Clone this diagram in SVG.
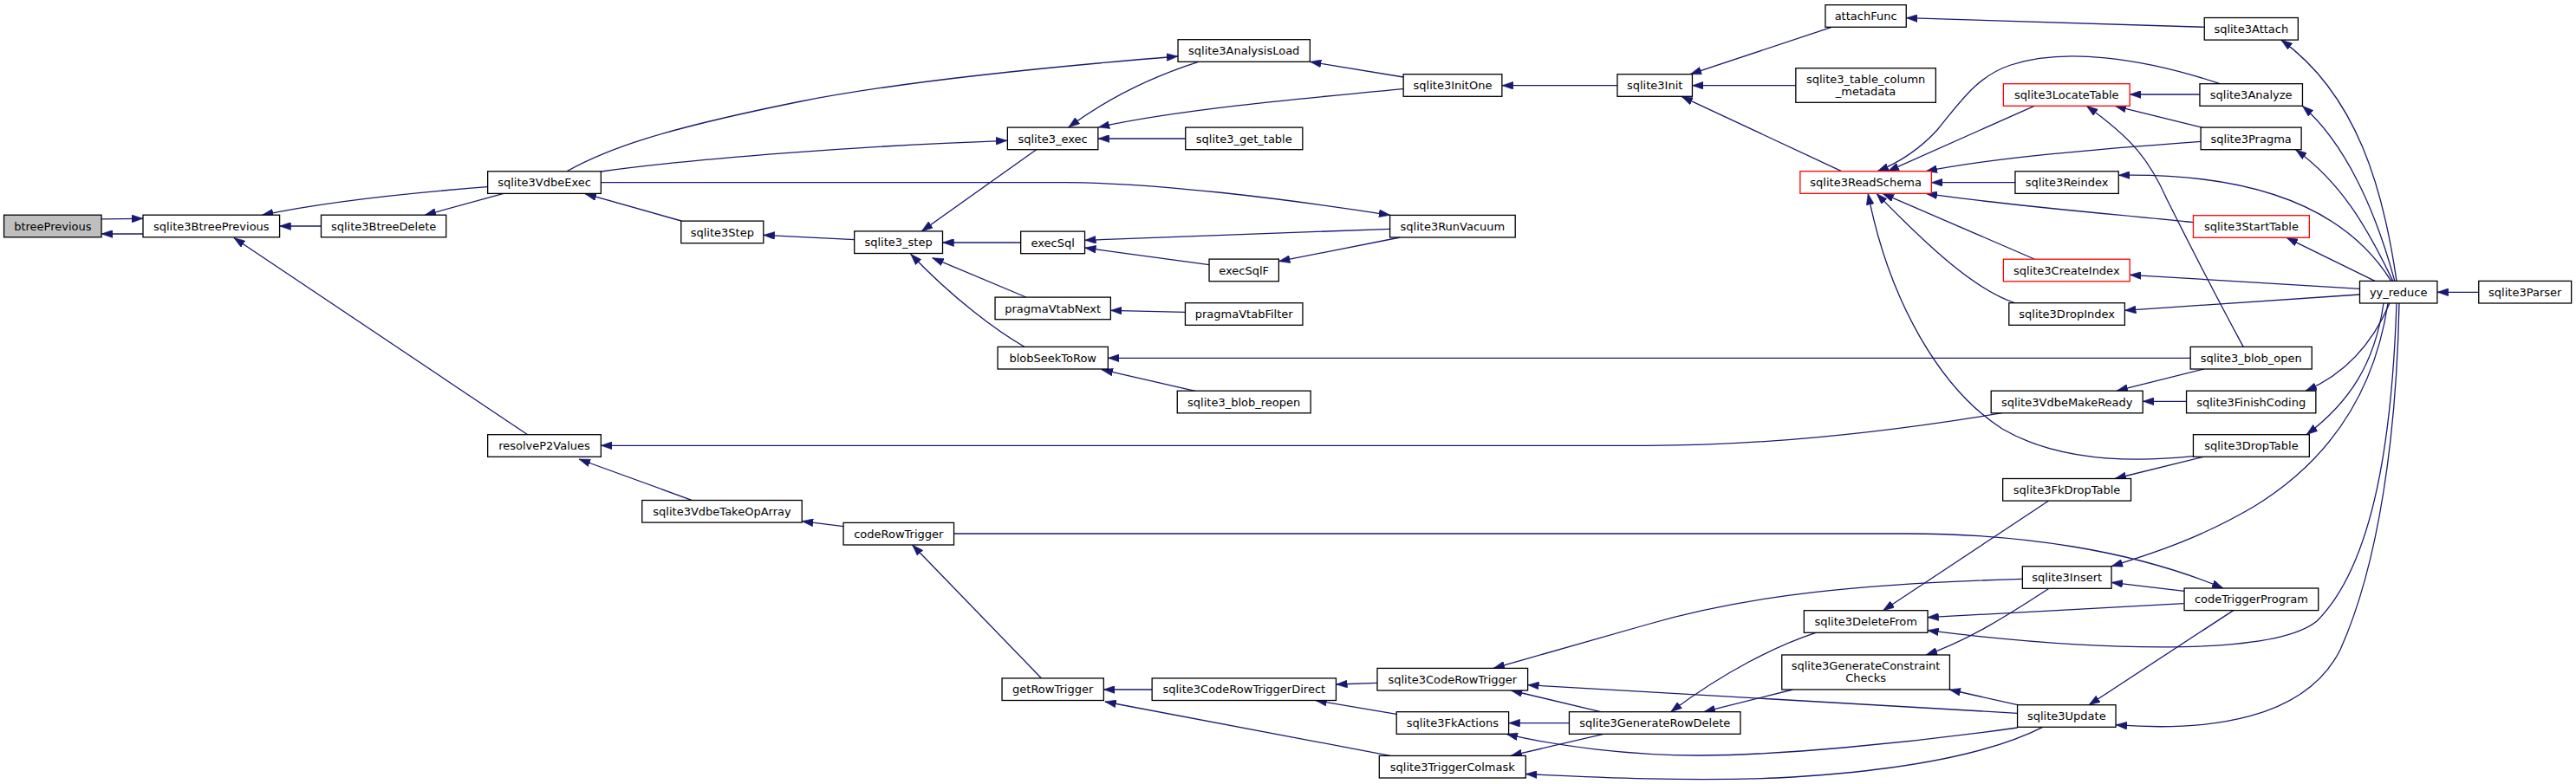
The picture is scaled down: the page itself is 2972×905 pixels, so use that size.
<svg xmlns="http://www.w3.org/2000/svg" width="2972" height="905" viewBox="0 0 2972 905">
<style>
.node rect{fill:#ffffff;stroke:#000000;stroke-width:1.3}
.node.trunc rect{stroke:#ff0000}
.node.root rect{fill:#bfbfbf}
.node text{font-family:"DejaVu Sans","Liberation Sans",sans-serif;font-size:13px;text-anchor:middle;fill:#000000}
.edges path{fill:none;stroke:#191970;stroke-width:1.3;marker-end:url(#arr)}
</style>
<defs>
<marker id="arr" viewBox="0 0 13 9" refX="13" refY="4.5" markerWidth="13" markerHeight="9" markerUnits="userSpaceOnUse" orient="auto">
<path d="M0,0 L13,4.5 L0,9 z" fill="#191970" stroke="#191970" stroke-width="0.5"/>
</marker>
</defs>
<rect width="2972" height="905" fill="#ffffff"/>
<g class="edges">
<path d="M117,252.8 L165,252.3"/>
<path d="M165,270 L117,270"/>
<path d="M370.5,261 L322.6,261"/>
<path d="M562.6,215.7 C480,222 380,232 302.3,248.3"/>
<path d="M581,223.3 L490,248.3"/>
<path d="M608.7,501.7 L269.8,274.5"/>
<path d="M786,255 L675,223.7"/>
<path d="M653.9,197.7 C700,172 760,150 924,117 C1030,96 1200,78 1359,65"/>
<path d="M693.3,198 C800,183 1000,168 1162,162.3"/>
<path d="M693.3,210.7 L1230,210.7 C1330,210.7 1480,229 1603.9,248.3"/>
<path d="M1195.6,172.7 L1063.3,266.9"/>
<path d="M985.7,276.7 L880.8,271.3"/>
<path d="M1177.6,280 L1087.5,280"/>
<path d="M1183.7,343 L1075.6,297.7"/>
<path d="M1181.8,400.3 C1150,382 1100,345 1050.7,293.3"/>
<path d="M1382.7,71.3 C1340,85 1285,108 1232.7,147"/>
<path d="M1619.2,102.7 C1520,112 1360,126 1267.2,147"/>
<path d="M1367.8,160 L1266.8,160"/>
<path d="M1619.2,89 L1511.3,71.3"/>
<path d="M1865.9,98.7 L1732.9,98.7"/>
<path d="M1603.6,264.3 L1251.5,277.3"/>
<path d="M1615.4,274 L1475.3,301.7"/>
<path d="M1395,305.7 L1251.5,286"/>
<path d="M1367.4,360.3 L1281.3,358.3"/>
<path d="M2527.1,413.3 L1278.3,413.3"/>
<path d="M1380,451.7 L1271,426.7"/>
<path d="M2310,476.7 C2200,495 2050,514.3 1900,514.3 L693.3,514.3"/>
<path d="M798,577.3 L668,530"/>
<path d="M973,607.7 L925.2,601.7"/>
<path d="M1100.5,616 L2200,616 C2330,616 2460,635 2565,679"/>
<path d="M1201.3,782.7 L1052.6,629"/>
<path d="M1329.2,796 L1273.3,796"/>
<path d="M1603.9,872.3 L1274.8,810"/>
<path d="M1589,788.3 L1541.5,790"/>
<path d="M1611.2,824.3 L1517.8,808.5"/>
<path d="M2333,668.3 C2150,674 2020,686 1900,721 L1723,771.4"/>
<path d="M1846.7,821.7 L1743.3,797"/>
<path d="M2327.5,823.3 L1762.6,790.7"/>
<path d="M1810.4,834.7 L1740.6,834.7"/>
<path d="M2327.5,840 C2200,858 2050,872 1960,872 C1880,872 1800,862 1738,847.3"/>
<path d="M1850,847.3 L1743,872.4"/>
<path d="M2356.7,839.3 C2300,868 2200,890 2050,898 C1950,902 1850,898 1760.3,893.5"/>
<path d="M2095,730.3 C2050,745 1990,775 1927.6,821.7"/>
<path d="M2068.4,796 L1965.8,821.7"/>
<path d="M2363.7,578 L2172.5,704.7"/>
<path d="M2519.3,696.7 L2223.7,712.7"/>
<path d="M2765,350 C2760,500 2740,650 2673,717 C2620,760 2400,750 2223.7,727.7"/>
<path d="M2755,350 C2740,450 2690,530 2600,585 C2540,620 2490,637 2436,653.7"/>
<path d="M2768,350 C2765,500 2745,650 2700,750 C2660,830 2550,845 2441,836.7"/>
<path d="M2750,350 C2740,420 2710,465 2661,501.7"/>
<path d="M2757,350 C2740,390 2710,430 2660,451.2"/>
<path d="M2765,324.4 C2750,220 2720,110 2631.8,46.1"/>
<path d="M2762.8,324.4 C2740,240 2705,165 2656.4,122.3"/>
<path d="M2760.7,324.4 C2730,260 2700,210 2648.5,172.7"/>
<path d="M2758.7,324.4 C2700,230 2580,200 2444.3,202.3"/>
<path d="M2740,324.4 L2638,274.3"/>
<path d="M2722.5,333.3 L2457.2,317.3"/>
<path d="M2722.5,340 L2451.4,358.3"/>
<path d="M2859.7,337.3 L2811.9,337.3"/>
<path d="M2522.5,463.3 L2472.2,463.3"/>
<path d="M2542.5,426 L2442,451.2"/>
<path d="M2542.5,527.3 L2440,552.5"/>
<path d="M2530.4,526.7 C2450,535 2370,530 2310,495 C2240,450 2180,350 2155.2,223.4"/>
<path d="M2325.5,350 C2280,335 2230,290 2165,223.4"/>
<path d="M2347,299 L2172,223.4"/>
<path d="M2530.4,256.7 C2450,248 2320,238 2222,223.4"/>
<path d="M2324.9,210.7 L2228.3,210.7"/>
<path d="M2539.1,163.3 C2420,172 2300,182 2222,197.7"/>
<path d="M2347,122.3 L2178,197.7"/>
<path d="M2561.2,96.7 C2470,66 2380,55 2320,75 C2280,88 2260,120 2235,150 C2215,172 2190,188 2166,197.7"/>
<path d="M2537.9,109 L2457.2,109"/>
<path d="M2540.4,147.1 L2440,122.3"/>
<path d="M2588.2,400.4 C2550,330 2520,270 2500,230 C2480,185 2460,160 2407.3,122.3"/>
<path d="M2543.3,31.3 L2199.2,20.7"/>
<path d="M2113.2,31.3 L1950,85.7"/>
<path d="M2071.8,98.7 L1952.4,98.7"/>
<path d="M2124.6,197.7 L1940,111.3"/>
<path d="M2364,679.3 C2320,708 2270,740 2222,756"/>
<path d="M2327.7,813.7 L2249,796"/>
<path d="M2520,682.3 L2436,672.3"/>
<path d="M2576.7,704.6 L2410,813.7"/>
</g>
<g id="node_btreePrevious" class="node root"><rect x="4.55" y="248.2" width="112.5" height="25.6"/><text x="60.8" y="265.6">btreePrevious</text></g>
<g id="node_sqlite3BtreePrevious" class="node"><rect x="165" y="248.2" width="157.6" height="25.6"/><text x="243.8" y="265.6">sqlite3BtreePrevious</text></g>
<g id="node_sqlite3BtreeDelete" class="node"><rect x="370.5" y="248.2" width="144.2" height="25.6"/><text x="442.6" y="265.6">sqlite3BtreeDelete</text></g>
<g id="node_sqlite3VdbeExec" class="node"><rect x="562.65" y="197.8" width="130.7" height="25.6"/><text x="628" y="215.2">sqlite3VdbeExec</text></g>
<g id="node_resolveP2Values" class="node"><rect x="562.65" y="501.7" width="130.7" height="25.6"/><text x="628" y="519.1">resolveP2Values</text></g>
<g id="node_sqlite3Step" class="node"><rect x="785.8" y="255.1" width="95" height="25.6"/><text x="833.3" y="272.5">sqlite3Step</text></g>
<g id="node_sqlite3VdbeTakeOpArray" class="node"><rect x="740.75" y="577.5" width="184.5" height="25.6"/><text x="833" y="594.9">sqlite3VdbeTakeOpArray</text></g>
<g id="node_sqlite3_step" class="node"><rect x="985.7" y="266.9" width="101.8" height="25.6"/><text x="1036.6" y="284.3">sqlite3_step</text></g>
<g id="node_codeRowTrigger" class="node"><rect x="973.05" y="603.4" width="127.5" height="25.6"/><text x="1036.8" y="620.8">codeRowTrigger</text></g>
<g id="node_sqlite3_exec" class="node"><rect x="1162.35" y="147.1" width="104.5" height="25.6"/><text x="1214.6" y="164.5">sqlite3_exec</text></g>
<g id="node_execSql" class="node"><rect x="1177.65" y="267.1" width="73.9" height="25.6"/><text x="1214.6" y="284.5">execSql</text></g>
<g id="node_pragmaVtabNext" class="node"><rect x="1148.05" y="343.1" width="133.3" height="25.6"/><text x="1214.7" y="360.5">pragmaVtabNext</text></g>
<g id="node_blobSeekToRow" class="node"><rect x="1151.05" y="400.4" width="127.3" height="25.6"/><text x="1214.7" y="417.8">blobSeekToRow</text></g>
<g id="node_getRowTrigger" class="node"><rect x="1156.05" y="782.9" width="117.3" height="25.6"/><text x="1214.7" y="800.3">getRowTrigger</text></g>
<g id="node_sqlite3AnalysisLoad" class="node"><rect x="1359.05" y="45.7" width="152.3" height="25.6"/><text x="1435.2" y="63.1">sqlite3AnalysisLoad</text></g>
<g id="node_sqlite3_get_table" class="node"><rect x="1367.75" y="147.1" width="135.1" height="25.6"/><text x="1435.3" y="164.5">sqlite3_get_table</text></g>
<g id="node_execSqlF" class="node"><rect x="1395.05" y="299.1" width="80.3" height="25.6"/><text x="1435.2" y="316.5">execSqlF</text></g>
<g id="node_pragmaVtabFilter" class="node"><rect x="1367.45" y="349.7" width="135.5" height="25.6"/><text x="1435.2" y="367.1">pragmaVtabFilter</text></g>
<g id="node_sqlite3_blob_reopen" class="node"><rect x="1358.25" y="451.2" width="153.9" height="25.6"/><text x="1435.2" y="468.6">sqlite3_blob_reopen</text></g>
<g id="node_sqlite3CodeRowTriggerDirect" class="node"><rect x="1329.15" y="782.9" width="212.3" height="25.6"/><text x="1435.3" y="800.3">sqlite3CodeRowTriggerDirect</text></g>
<g id="node_sqlite3InitOne" class="node"><rect x="1619.15" y="85.7" width="113.7" height="25.6"/><text x="1676" y="103.1">sqlite3InitOne</text></g>
<g id="node_sqlite3RunVacuum" class="node"><rect x="1603.6" y="248.4" width="144.6" height="25.6"/><text x="1675.9" y="265.8">sqlite3RunVacuum</text></g>
<g id="node_sqlite3CodeRowTrigger" class="node"><rect x="1589" y="771.4" width="173.6" height="25.6"/><text x="1675.8" y="788.8">sqlite3CodeRowTrigger</text></g>
<g id="node_sqlite3FkActions" class="node"><rect x="1611.2" y="821.7" width="129.4" height="25.6"/><text x="1675.9" y="839.1">sqlite3FkActions</text></g>
<g id="node_sqlite3TriggerColmask" class="node"><rect x="1591.3" y="872.4" width="169" height="25.6"/><text x="1675.8" y="889.8">sqlite3TriggerColmask</text></g>
<g id="node_sqlite3Init" class="node"><rect x="1865.95" y="85.7" width="86.5" height="25.6"/><text x="1909.2" y="103.1">sqlite3Init</text></g>
<g id="node_sqlite3GenerateRowDelete" class="node"><rect x="1810.45" y="821.7" width="197.5" height="25.6"/><text x="1909.2" y="839.1">sqlite3GenerateRowDelete</text></g>
<g id="node_attachFunc" class="node"><rect x="2105.95" y="5.7" width="93.3" height="25.6"/><text x="2152.6" y="23.1">attachFunc</text></g>
<g id="node_sqlite3_table_column_metadata" class="node"><rect x="2071.85" y="78.7" width="161.5" height="39.6"/><text x="2152.6" y="95.9">sqlite3_table_column</text><text x="2152.6" y="109.5">_metadata</text></g>
<g id="node_sqlite3ReadSchema" class="node trunc"><rect x="2076.85" y="197.7" width="151.5" height="25.6"/><text x="2152.6" y="215.1">sqlite3ReadSchema</text></g>
<g id="node_sqlite3DeleteFrom" class="node"><rect x="2081.35" y="704.7" width="142.7" height="25.6"/><text x="2152.7" y="722.1">sqlite3DeleteFrom</text></g>
<g id="node_sqlite3GenerateConstraintChecks" class="node"><rect x="2055.75" y="756" width="193.7" height="40"/><text x="2152.6" y="773">sqlite3GenerateConstraint</text><text x="2152.6" y="787">Checks</text></g>
<g id="node_sqlite3LocateTable" class="node trunc"><rect x="2311.4" y="96.7" width="145.8" height="25.6"/><text x="2384.3" y="114.1">sqlite3LocateTable</text></g>
<g id="node_sqlite3Reindex" class="node"><rect x="2324.95" y="197.8" width="119.3" height="25.6"/><text x="2384.6" y="215.2">sqlite3Reindex</text></g>
<g id="node_sqlite3CreateIndex" class="node trunc"><rect x="2311.4" y="299.2" width="145.8" height="25.6"/><text x="2384.3" y="316.6">sqlite3CreateIndex</text></g>
<g id="node_sqlite3DropIndex" class="node"><rect x="2317.8" y="349.7" width="133.6" height="25.6"/><text x="2384.6" y="367.1">sqlite3DropIndex</text></g>
<g id="node_sqlite3VdbeMakeReady" class="node"><rect x="2297.2" y="451.2" width="175" height="25.6"/><text x="2384.7" y="468.6">sqlite3VdbeMakeReady</text></g>
<g id="node_sqlite3FkDropTable" class="node"><rect x="2310.65" y="552.5" width="147.9" height="25.6"/><text x="2384.6" y="569.9">sqlite3FkDropTable</text></g>
<g id="node_sqlite3Insert" class="node"><rect x="2333.35" y="653.7" width="102.7" height="25.6"/><text x="2384.7" y="671.1">sqlite3Insert</text></g>
<g id="node_sqlite3Update" class="node"><rect x="2327.55" y="813.7" width="113.5" height="25.6"/><text x="2384.3" y="831.1">sqlite3Update</text></g>
<g id="node_sqlite3Attach" class="node"><rect x="2543.25" y="20.5" width="108.1" height="25.6"/><text x="2597.3" y="37.9">sqlite3Attach</text></g>
<g id="node_sqlite3Analyze" class="node"><rect x="2537.95" y="96.7" width="118.5" height="25.6"/><text x="2597.2" y="114.1">sqlite3Analyze</text></g>
<g id="node_sqlite3Pragma" class="node"><rect x="2539.1" y="147.1" width="116" height="25.6"/><text x="2597.1" y="164.5">sqlite3Pragma</text></g>
<g id="node_sqlite3StartTable" class="node trunc"><rect x="2530.45" y="248.7" width="133.9" height="25.6"/><text x="2597.4" y="266.1">sqlite3StartTable</text></g>
<g id="node_sqlite3_blob_open" class="node"><rect x="2527.15" y="400.4" width="140.1" height="25.6"/><text x="2597.2" y="417.8">sqlite3_blob_open</text></g>
<g id="node_sqlite3FinishCoding" class="node"><rect x="2522.55" y="451.2" width="149.3" height="25.6"/><text x="2597.2" y="468.6">sqlite3FinishCoding</text></g>
<g id="node_sqlite3DropTable" class="node"><rect x="2530.45" y="501.7" width="133.9" height="25.6"/><text x="2597.4" y="519.1">sqlite3DropTable</text></g>
<g id="node_codeTriggerProgram" class="node"><rect x="2520.05" y="679" width="154.7" height="25.6"/><text x="2597.4" y="696.4">codeTriggerProgram</text></g>
<g id="node_yy_reduce" class="node"><rect x="2722.5" y="324.4" width="89.4" height="25.6"/><text x="2767.2" y="341.8">yy_reduce</text></g>
<g id="node_sqlite3Parser" class="node"><rect x="2859.75" y="324.4" width="106.9" height="25.6"/><text x="2913.2" y="341.8">sqlite3Parser</text></g>
</svg>
